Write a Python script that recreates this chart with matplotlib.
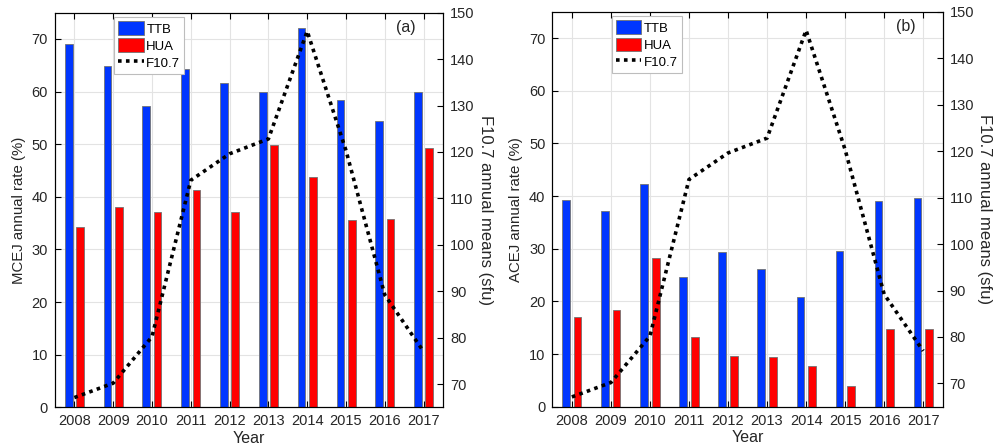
import numpy as np
import matplotlib
matplotlib.use("Agg")
import matplotlib.pyplot as plt

plt.rcParams['font.family'] = ['Liberation Sans', 'DejaVu Sans']

years = [2008, 2009, 2010, 2011, 2012, 2013, 2014, 2015, 2016, 2017]
f107 = [67.1, 70.2, 80.2, 113.9, 119.6, 122.8, 146.0, 120.3, 89.2, 77.0]

mcej_ttb = [69.0, 64.8, 57.3, 64.3, 61.7, 59.9, 72.0, 58.4, 54.5, 59.9]
mcej_hua = [34.2, 38.1, 37.1, 41.3, 37.2, 49.9, 43.7, 35.6, 35.7, 49.2]

acej_ttb = [39.2, 37.1, 42.3, 24.7, 29.3, 26.1, 20.8, 29.5, 39.0, 39.7]
acej_hua = [17.0, 18.3, 28.2, 13.2, 9.6, 9.5, 7.8, 4.0, 14.7, 14.7]

blue = '#0036ff'
red = '#ff0000'
txt = '#262626'

fig = plt.figure(figsize=(10.03, 4.48), dpi=100)

def panel(rect, ttb, hua, ylab, tag):
    ax = fig.add_axes(rect)
    x = np.array(years)
    w = 0.2
    b1 = ax.bar(x - 0.145, ttb, w, color=blue, edgecolor='0.45', linewidth=0.6, label='TTB', zorder=2)
    b2 = ax.bar(x + 0.145, hua, w, color=red, edgecolor='0.45', linewidth=0.6, label='HUA', zorder=2)
    ax.set_xlim(2007.5, 2017.5)
    ax.set_ylim(0, 75)
    ax.set_xticks(years)
    ax.set_yticks(range(0, 71, 10))
    ax.grid(True, color='#e3e3e3', linewidth=0.8, zorder=0)
    ax.set_axisbelow(True)
    ax.tick_params(direction='in', top=True, right=False, length=4, labelsize=10.5,
                   labelcolor=txt, pad=5)
    ax.set_xlabel('Year', fontsize=11.5, color=txt, labelpad=2)
    ax.set_ylabel(ylab, fontsize=10.8, color=txt, labelpad=4)
    for s in ax.spines.values():
        s.set_color('black')
        s.set_linewidth(0.8)

    # F10.7 on the right-hand axis
    ax2 = ax.twinx()
    ln, = ax2.plot(years, f107, color='black', linestyle=(0, (1, 1.2)), linewidth=2.6, label='F10.7')
    ax2.set_ylim(65, 150)
    ax2.set_yticks(range(70, 151, 10))
    ax2.tick_params(direction='in', length=4, labelsize=10.5, labelcolor=txt, pad=5)
    ax2.set_ylabel('F10.7 annual means (sfu)', fontsize=12, color=txt, rotation=270, labelpad=13)
    ax2.spines['right'].set_linewidth(0.8)

    leg = ax2.legend([b1, b2, ln], ['TTB', 'HUA', 'F10.7'], loc='upper left',
                     bbox_to_anchor=(0.152, 0.988), fontsize=9.5, frameon=True, fancybox=False,
                     edgecolor='#bdbdbd', framealpha=1, borderpad=0.3, labelspacing=0.22,
                     handlelength=1.95, handleheight=1.2, handletextpad=0.2, borderaxespad=0)
    leg.get_frame().set_linewidth(0.8)
    ax2.text(0.905, 0.962, tag, transform=ax2.transAxes, ha='center', va='center',
             fontsize=11.5, color=txt)

panel([0.0548, 0.0908, 0.3869, 0.881], mcej_ttb, mcej_hua, 'MCEJ annual rate (%)', '(a)')
panel([0.5507, 0.0922, 0.3892, 0.8817], acej_ttb, acej_hua, 'ACEJ annual rate (%)', '(b)')

fig.savefig('out.png', dpi=100)
